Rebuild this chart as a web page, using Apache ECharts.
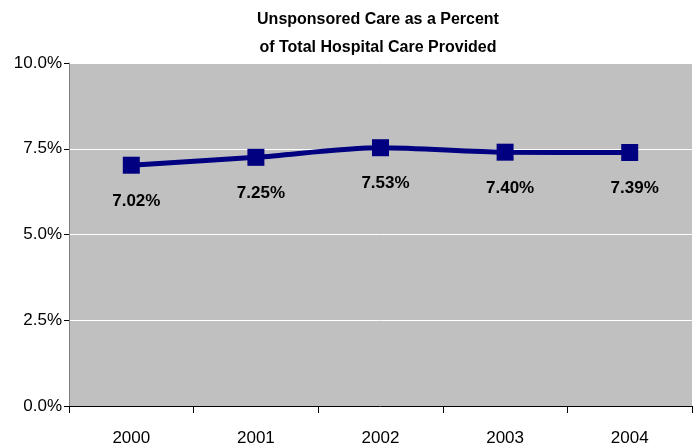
<!DOCTYPE html>
<html><head><meta charset="utf-8">
<script src="https://cdn.jsdelivr.net/npm/echarts@6/dist/echarts.min.js"></script>
<style>html,body{margin:0;padding:0;background:#fff}#c{width:699px;height:448px}</style>
</head><body><div id="c"></div>
<script>
const years = ['2000','2001','2002','2003','2004'];
const unsponsoredPct = [7.02, 7.25, 7.53, 7.40, 7.39];
const yTicks = [0, 2.5, 5, 7.5, 10];
const titleText = 'Unsponsored Care as a Percent\nof Total Hospital Care Provided';

const chart = echarts.init(document.getElementById('c'));
chart.setOption({
  animation: false,
  backgroundColor: '#ffffff',
  title: {
    text: titleText,
    left: 373, top: 1, textAlign: 'center',
    textStyle: { fontFamily: 'Liberation Sans, Arial', fontWeight: 'bold', fontSize: 16, lineHeight: 28, color: '#000' }
  },
  grid: { left: 69, right: 7, top: 63, bottom: 42, show: true, backgroundColor: '#c0c0c0', borderWidth: 0 },
  xAxis: {
    type: 'category', data: years, boundaryGap: true,
    axisLine: { lineStyle: { color: '#000', width: 1 } },
    axisTick: { show: true, length: 7, lineStyle: { color: '#000' } },
    axisLabel: { margin: 24, fontFamily: 'Liberation Sans, Arial', fontSize: 17, color: '#000' },
    splitLine: { show: false }
  },
  yAxis: {
    type: 'value', min: yTicks[0], max: yTicks[yTicks.length-1], interval: 2.5,
    axisLine: { show: true, lineStyle: { color: '#808080', width: 1 } },
    axisTick: { show: true, length: 5, lineStyle: { color: '#000' } },
    axisLabel: { margin: 7, fontFamily: 'Liberation Sans, Arial', fontSize: 17, color: '#000',
      formatter: v => v.toFixed(1) + '%' },
    splitLine: { show: true, lineStyle: { color: '#ffffff', width: 1 } }
  },
  series: [{
    type: 'line', data: unsponsoredPct, smooth: 0.3,
    symbol: 'rect', symbolSize: 17,
    lineStyle: { color: '#000080', width: 5 },
    itemStyle: { color: '#000080' },
    label: { show: true, position: 'bottom', distance: 19, offset: [5, 0],
      fontFamily: 'Liberation Sans, Arial', fontWeight: 'bold', fontSize: 17, color: '#000',
      formatter: p => p.value.toFixed(2) + '%' }
  }]
});
</script></body></html>
